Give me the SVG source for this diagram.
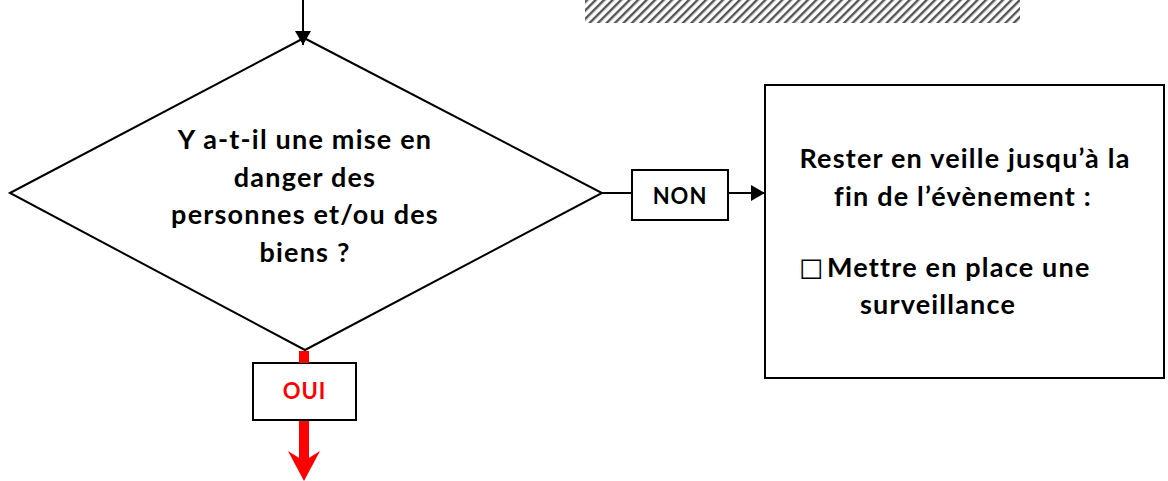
<svg xmlns="http://www.w3.org/2000/svg" width="1168" height="481" viewBox="0 0 1168 481">
<style>
.t{font-family:Lato,"Carlito","Liberation Sans",sans-serif;font-weight:bold;fill:#000;text-anchor:middle}
.big{font-size:27px;letter-spacing:1.2px}
.sm{font-size:22px;letter-spacing:1px}
.shape{fill:#fff;stroke:#000;stroke-width:2}
.ln{stroke:#000;stroke-width:2;fill:none}
</style>
<defs>
<pattern id="hatch" patternUnits="userSpaceOnUse" width="6" height="6" patternTransform="rotate(-45)">
<rect width="6" height="6" fill="#fff"/>
<rect x="0" y="0" width="6" height="2.4" fill="#555"/>
</pattern>
<marker id="ah" viewBox="0 0 14 16" refX="14" refY="8" markerWidth="14" markerHeight="16" markerUnits="userSpaceOnUse" orient="auto">
<path d="M0,0 L14,8 L0,16 Z" fill="#000"/>
</marker>
</defs>
<rect id="hatched" x="585" y="0" width="435" height="23" fill="url(#hatch)"/>
<g id="decision">
<polygon class="shape" points="10,193 304,38 602,193 305,350"/>
<text class="t big" x="305" y="149">Y a-t-il une mise en</text>
<text class="t big" x="305" y="187">danger des</text>
<text class="t big" x="305" y="224">personnes et/ou des</text>
<text class="t big" x="305" y="262">biens ?</text>
</g>
<g id="non">
<rect class="shape" x="632" y="170" width="96" height="50"/>
<text class="t sm" x="680" y="204">NON</text>
</g>
<g id="oui">
<rect class="shape" x="253" y="363" width="103" height="57"/>
<text class="t sm" x="304.5" y="399" style="fill:#f00">OUI</text>
</g>
<g id="veille">
<rect class="shape" x="765" y="85" width="399" height="293"/>
<text class="t big" x="965" y="168">Rester en veille jusqu’à la</text>
<text class="t big" x="963" y="206">fin de l’évènement :</text>
<text x="799" y="279" style="font-family:'DejaVu Sans',sans-serif;font-size:27px">☐</text>
<text class="t big" x="827" y="277" style="text-anchor:start">Mettre en place une</text>
<text class="t big" x="938" y="314">surveillance</text>
</g>
<g id="connectors">
<line class="ln" x1="303" y1="0" x2="303" y2="45" marker-end="url(#ah)"/>
<line class="ln" x1="602" y1="193" x2="632" y2="193"/>
<line class="ln" x1="728" y1="193" x2="765" y2="193" marker-end="url(#ah)"/>
<rect x="299" y="351" width="10" height="12" fill="#f00"/>
<rect x="299" y="421" width="10" height="41" fill="#f00"/>
<path d="M288,451 L304,481 L320,451 L304,461 Z" fill="#f00"/>
</g>
</svg>
